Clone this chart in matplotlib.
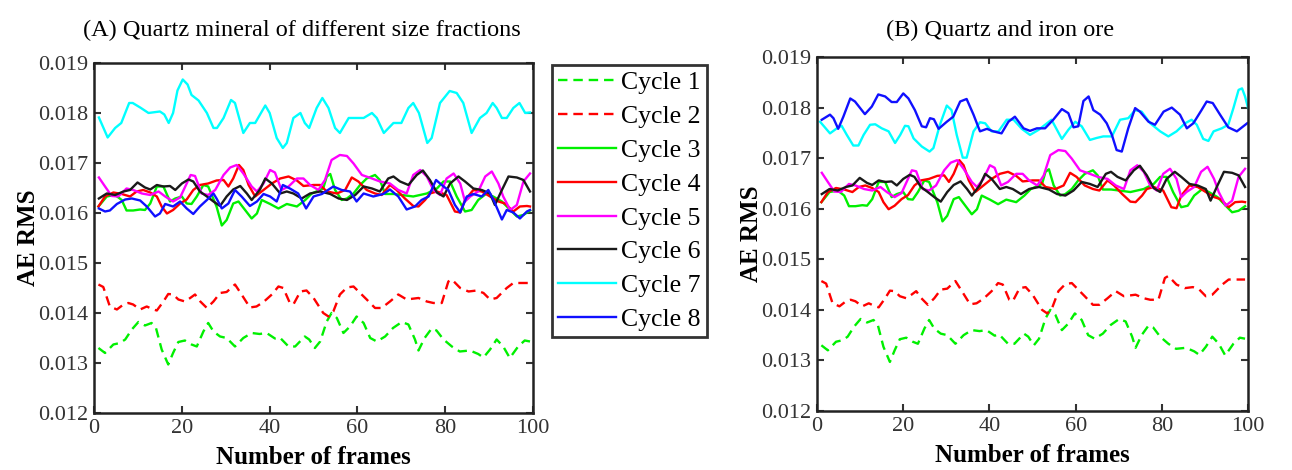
import matplotlib
matplotlib.use("Agg")
import matplotlib.pyplot as plt

plt.rcParams["font.family"] = ["Liberation Serif", "DejaVu Serif"]

# ---------------- data ----------------
# Cycle 1 (green dashed) - same in both panels
c1_x = [1, 2.5, 4.4, 5.9, 7.1, 8.6, 10.1, 11.6, 13.1, 14.1, 15.4, 16.9, 18, 19.2, 20.7, 22.2, 23.4, 24.9,
        26, 27.2, 28.7, 30.2, 32.1, 34, 35.9, 37.7, 39.3, 41.2, 42.3, 44.3, 45.8, 48, 49, 50.3, 51.5, 53,
        54.1, 55.3, 56.8, 58.3, 59.8, 61.4, 62.9, 64.4, 66.3, 68.1, 70.1, 71.6, 73.1, 73.9, 75.3, 76.9, 78,
        79.6, 81.5, 83.3, 85.6, 87.5, 88.7, 90.2, 91.7, 93.2, 94.7, 96.6, 98.1, 99.3]
c1_y = [0.0133, 0.0132, 0.01337, 0.0134, 0.01347, 0.01367, 0.01382, 0.01375, 0.0138, 0.0137, 0.01327,
        0.01297, 0.0132, 0.01342, 0.01345, 0.01337, 0.01333, 0.01363, 0.0138, 0.01363, 0.01353, 0.0135,
        0.01333, 0.0135, 0.0136, 0.01358, 0.0136, 0.01349, 0.01351, 0.01333, 0.01333, 0.01353, 0.01347,
        0.0133, 0.01343, 0.01383, 0.014, 0.0139, 0.0136, 0.01373, 0.01393, 0.0138, 0.0135, 0.01343,
        0.01353, 0.0137, 0.01382, 0.01377, 0.01347, 0.01325, 0.0135, 0.01369, 0.01365, 0.01347, 0.01333,
        0.01323, 0.01325, 0.01318, 0.01311, 0.01327, 0.01347, 0.01333, 0.0131, 0.01333, 0.01345, 0.01343]

# Cycle 2 (red dashed)
c2_x = [1, 2.1, 3.6, 5.2, 6.7, 7.8, 8.9, 10.5, 12, 13.5, 14.3, 15.8, 16.9, 18, 19.2, 20.7, 21.9, 23, 24.2,
        25.7, 27.2, 28.7, 30.2, 32.1, 33.6, 35.5, 37, 38.6, 40.5, 42, 43.1, 44.6, 45.4, 47, 48.4, 50, 52.2,
        53.4, 54.5, 56, 57.6, 59.1, 60.6, 62.1, 64, 65.5, 67.4, 69.3, 71.2, 73.9, 75.8, 77.3, 79.2, 80.7,
        81.5, 83.4, 85.3, 87.2, 88.7, 90.2, 91.7, 94, 95.5, 97.4, 99.3]
c2_y = [0.01457, 0.01452, 0.01413, 0.01407, 0.01417, 0.0142, 0.01417, 0.01407, 0.01413, 0.01407, 0.01405,
        0.01423, 0.01438, 0.01437, 0.01427, 0.01423, 0.0143, 0.01437, 0.01423, 0.0141, 0.01423, 0.0144,
        0.01442, 0.01457, 0.01437, 0.01411, 0.01413, 0.01422, 0.01437, 0.01453, 0.0145, 0.0142, 0.01417,
        0.01443, 0.01445, 0.0143, 0.014, 0.01393, 0.01403, 0.01437, 0.01451, 0.01453, 0.0144, 0.01427,
        0.0141, 0.0141, 0.01423, 0.01437, 0.01427, 0.0143, 0.01423, 0.0142, 0.0142, 0.01463, 0.01467,
        0.0145, 0.01443, 0.01445, 0.0144, 0.01427, 0.0143, 0.0145, 0.0146, 0.0146, 0.0146]

# Cycle 3 (green solid)
c3_x = [1, 2.9, 4.8, 6.3, 7.4, 8.9, 10.5, 11.6, 12.8, 14.3, 15.8, 17.3, 18.5, 20, 21.1, 22.2, 23.4, 24.9,
        26, 27.9, 29.1, 30.2, 31.7, 32.9, 34.4, 35.9, 37.1, 38.2, 40.1, 42, 43.9, 46.2, 48.1, 49.6, 52.2,
        53, 53.8, 54.9, 56.4, 57.6, 59.1, 60.6, 62.1, 64, 65.1, 66.3, 68.2, 70.1, 72.7, 75.8, 78.1, 79.6,
        81.1, 82.6, 84.5, 86, 87.5, 89.4, 90.9, 92.9, 94.8, 96.3, 97.8, 99.3]
c3_y = [0.01613, 0.01633, 0.01636, 0.01626, 0.01605, 0.01605, 0.01607, 0.01606, 0.01619, 0.01653, 0.01653,
        0.01623, 0.01629, 0.01633, 0.01619, 0.01618, 0.01633, 0.01656, 0.01653, 0.01613, 0.01575, 0.01586,
        0.01619, 0.01623, 0.01606, 0.01589, 0.01599, 0.01626, 0.01618, 0.01609, 0.01618, 0.01613, 0.01626,
        0.01639, 0.01649, 0.01673, 0.01678, 0.01646, 0.01626, 0.01629, 0.01639, 0.01656, 0.01669, 0.01676,
        0.01666, 0.01638, 0.01638, 0.01636, 0.01633, 0.01639, 0.01649, 0.01663, 0.01663, 0.01633, 0.01603,
        0.01606, 0.01626, 0.01639, 0.01633, 0.01623, 0.01606, 0.01593, 0.01596, 0.01605]

# Cycle 4 (red solid)
c4_x = [1, 2.5, 4.4, 6.3, 8.2, 9.7, 11.2, 12.8, 14.3, 15.4, 16.6, 18, 19.6, 21.1, 22.6, 24.1, 26, 27.9,
        29.5, 30.6, 31.7, 33, 34, 35.2, 36.7, 38.6, 40.5, 42.4, 44.3, 46.2, 47.7, 50, 51.5, 53, 55.3, 57.2,
        58.7, 60.2, 62.1, 64, 65.5, 67.4, 68.9, 70.8, 72.7, 73.9, 75.4, 76.5, 78.1, 80.3, 82.2, 83.4, 84.5,
        86.4, 88.3, 90.2, 92.1, 93.6, 95.5, 97, 98.6, 99.3]
c4_y = [0.01613, 0.01633, 0.01641, 0.01638, 0.01633, 0.01643, 0.01646, 0.01641, 0.01633, 0.01613, 0.01599,
        0.01606, 0.01619, 0.01627, 0.01646, 0.01656, 0.01659, 0.01665, 0.01666, 0.01653, 0.01669, 0.01696,
        0.01686, 0.01656, 0.01633, 0.01646, 0.01659, 0.01669, 0.01673, 0.01665, 0.01654, 0.01656, 0.01656,
        0.01643, 0.01639, 0.01646, 0.01671, 0.01663, 0.01646, 0.01639, 0.01636, 0.01656, 0.01646, 0.01629,
        0.01614, 0.01613, 0.01626, 0.01639, 0.01643, 0.01636, 0.01603, 0.01601, 0.01626, 0.01646, 0.01643,
        0.01633, 0.01623, 0.01619, 0.01603, 0.01613, 0.01614, 0.01613]

# Cycle 5 (magenta)
c5_x = [1.1, 2.5, 4, 5.5, 7.4, 8.9, 10.9, 12.8, 14.7, 16.2, 18, 19.6, 21.1, 22, 23, 24.5, 26, 27.6, 29.5,
        31, 32.5, 34, 35.9, 37.1, 38.6, 40.1, 41.2, 42.7, 44.3, 46.2, 47.7, 49.2, 51.1, 52.6, 54.1, 56,
        57.6, 59.1, 61, 63.3, 65.1, 67.4, 69.3, 71.2, 72.7, 74.3, 75.8, 77.3, 78.8, 80.3, 81.9, 83.4, 84.5,
        85.7, 87.5, 89.1, 90.6, 92.1, 93.2, 94.8, 96.3, 97.8, 99.3]
c5_y = [0.01671, 0.01653, 0.01634, 0.01633, 0.01649, 0.01646, 0.01639, 0.01636, 0.01643, 0.01633, 0.01623,
        0.01631, 0.01659, 0.01676, 0.01674, 0.01639, 0.01636, 0.01646, 0.01676, 0.01691, 0.01696, 0.01679,
        0.01653, 0.01643, 0.01659, 0.01686, 0.01681, 0.01646, 0.01653, 0.01669, 0.01669, 0.01656, 0.01646,
        0.01666, 0.01706, 0.01716, 0.01714, 0.01699, 0.01676, 0.01669, 0.01663, 0.01659, 0.01646, 0.01639,
        0.01676, 0.01686, 0.01673, 0.01646, 0.01636, 0.01669, 0.01679, 0.01659, 0.01623, 0.01633, 0.01643,
        0.01673, 0.01683, 0.01659, 0.01633, 0.01606, 0.01616, 0.01663, 0.01679]

# Cycle 6 (black)
c6_x = [1.1, 2.9, 4.8, 6.7, 8.2, 9.9, 11.6, 12.8, 14.3, 15.8, 17.3, 18.5, 20, 21.5, 22.6, 24.1, 25.7, 27.2,
        28.7, 30.2, 31.7, 33.3, 34.8, 35.9, 37.8, 39, 40.5, 42.4, 43.9, 45.4, 47.3, 49.2, 51.5, 53.8, 55.7,
        57.6, 59.5, 61.4, 63.3, 65.1, 67, 68.2, 69.7, 71.6, 73.5, 74.9, 76.5, 78.1, 79.6, 81.1, 83, 84.5,
        86.4, 88.3, 90.2, 91.3, 92.9, 94.4, 96.3, 97.8, 99.3]
c6_y = [0.01629, 0.01639, 0.01636, 0.01643, 0.01646, 0.01661, 0.01651, 0.01647, 0.01656, 0.01653, 0.01654,
        0.01646, 0.01659, 0.01667, 0.01663, 0.01643, 0.01633, 0.01623, 0.01614, 0.01633, 0.01647, 0.01654,
        0.01639, 0.01626, 0.01647, 0.01669, 0.01659, 0.01639, 0.01643, 0.01639, 0.01629, 0.01639, 0.01643,
        0.01638, 0.01629, 0.01626, 0.01636, 0.01653, 0.01649, 0.01643, 0.01669, 0.01673, 0.01663, 0.01656,
        0.01676, 0.01685, 0.01666, 0.01641, 0.01633, 0.01659, 0.01673, 0.01663, 0.01649, 0.01646, 0.01639,
        0.01616, 0.01646, 0.01673, 0.01671, 0.01666, 0.01643]

# Cycle 7, panel A (cyan)
c7a_x = [1.1, 3.1, 4.8, 6.2, 8, 8.8, 10.5, 12.4, 15, 16, 17, 18, 19, 20.2, 21.3, 22.2, 23.8, 25.7, 27.2,
         28, 29.5, 31.2, 32.1, 34, 35.5, 36.7, 39, 40, 41.6, 43, 43.9, 45.4, 47, 48, 49, 50.7, 52, 53.4,
         54.9, 56, 58, 59.8, 61.4, 63.3, 64.4, 66, 68.2, 70, 71.6, 72.7, 74, 75.9, 76.9, 78.8, 81, 82.6,
         84.1, 86, 87.9, 89.4, 90.8, 91.7, 92.9, 94, 95.5, 96.9, 98.2, 99.3]
c7a_y = [0.01791, 0.01751, 0.0177, 0.0178, 0.0182, 0.0182, 0.01811, 0.018, 0.01803, 0.01797, 0.0178,
         0.018, 0.01845, 0.01867, 0.01857, 0.01836, 0.01825, 0.018, 0.0177, 0.0177, 0.0179, 0.01826,
         0.0182, 0.0176, 0.0178, 0.0178, 0.01815, 0.018, 0.0175, 0.0173, 0.0174, 0.0179, 0.018, 0.0178,
         0.0177, 0.0181, 0.0183, 0.0181, 0.0177, 0.0176, 0.0179, 0.0179, 0.0179, 0.018, 0.0179, 0.0176,
         0.0178, 0.0178, 0.0181, 0.0182, 0.018, 0.0174, 0.0175, 0.0182, 0.01844, 0.0184, 0.0182, 0.0176,
         0.0179, 0.018, 0.0182, 0.0181, 0.0179, 0.0179, 0.0181, 0.0182, 0.018, 0.01801]

# Cycle 8, panel A (blue)
c8a_x = [1.1, 2.5, 3.6, 5.2, 7.1, 8.6, 10.5, 12, 13.9, 15, 16.2, 18, 19.6, 21.1, 22.6, 24.1, 25.7, 27.2,
         27.9, 29.1, 30.6, 32.1, 33.6, 35.5, 37.1, 38.6, 40.1, 41.6, 43, 44.6, 46.5, 48.3, 50, 51.9, 54.5,
         56.4, 58.3, 59.8, 61.4, 63.6, 65.9, 67.4, 69.3, 71.2, 73.1, 74.6, 76.2, 77.9, 79.6, 80.7, 82.2,
         83.4, 84.9, 86.4, 88.3, 89.8, 91, 92.9, 94, 95.5, 97, 98.6, 99.3]
c8a_y = [0.01609, 0.01603, 0.01605, 0.01618, 0.01627, 0.01629, 0.01625, 0.01613, 0.01593, 0.01599, 0.01618,
         0.01613, 0.01623, 0.01609, 0.01598, 0.01613, 0.01626, 0.01639, 0.01629, 0.01609, 0.01619, 0.01646,
         0.01633, 0.01614, 0.01623, 0.01638, 0.01633, 0.01623, 0.01656, 0.01649, 0.01639, 0.01609, 0.01633,
         0.01638, 0.01653, 0.01646, 0.01643, 0.01623, 0.01639, 0.01633, 0.01638, 0.01647, 0.01633, 0.01607,
         0.01613, 0.01626, 0.01633, 0.01666, 0.01653, 0.01646, 0.01616, 0.01601, 0.01633, 0.01638, 0.01633,
         0.01646, 0.01626, 0.01587, 0.01606, 0.01601, 0.01589, 0.01603, 0.01606]

# Cycle 7, panel B (cyan)
c7b_x = [0.7, 3, 4.6, 5.7, 6.9, 8.4, 9.6, 10.8, 12.3, 13.5, 15, 16.6, 18.1, 19.3, 20.4, 21.2, 22.4, 24.3,
         26.1, 27, 28.5, 30.1, 31.2, 32.4, 33.8, 34.7, 36.3, 37.8, 39, 40.5, 42.1, 44, 45.6, 47.5, 49.4,
         51.4, 52.9, 54.4, 56.8, 58.3, 59.9, 61.4, 63.3, 64.9, 66.4, 68.4, 70.3, 72.2, 73.8, 75.3, 77.3,
         79.6, 81.5, 83.4, 85.4, 86.9, 88.1, 89.6, 90.8, 92, 93.9, 95.4, 96.6, 97.8, 98.6, 99.3, 100]
c7b_y = [0.01772, 0.01749, 0.01759, 0.01764, 0.01746, 0.01725, 0.01725, 0.01746, 0.01766, 0.01767, 0.01759,
         0.01753, 0.0173, 0.01746, 0.01764, 0.01763, 0.01739, 0.01723, 0.01713, 0.0172, 0.01766, 0.01804,
         0.01795, 0.01746, 0.01701, 0.01701, 0.01753, 0.01771, 0.01769, 0.01753, 0.01753, 0.01776, 0.01776,
         0.01758, 0.01746, 0.01756, 0.01766, 0.01776, 0.01738, 0.01756, 0.01772, 0.01763, 0.01736, 0.0174,
         0.01743, 0.01743, 0.01776, 0.01779, 0.01795, 0.01792, 0.01769, 0.01753, 0.01743, 0.01753, 0.01769,
         0.01776, 0.01766, 0.01738, 0.01734, 0.01753, 0.01759, 0.01766, 0.01799, 0.01835, 0.01838, 0.01822,
         0.01799]

# Cycle 8, panel B (blue)
c8b_x = [1.1, 3, 3.8, 4.9, 6.1, 7.7, 8.8, 11.1, 12.7, 14.2, 15.8, 17.3, 18.5, 20, 21.2, 22.7, 24.3, 25.3,
         26.2, 27.1, 28.2, 30.1, 31.6, 33.2, 34.7, 36.3, 37.8, 39.4, 40.9, 42.8, 44.4, 45.9, 47.9, 49.4, 51,
         52.9, 54.8, 56.8, 58.3, 59.5, 60.6, 61.8, 63, 64.1, 65.7, 67.2, 68.4, 69.5, 70.7, 72.2, 73.8, 74.9,
         76.9, 78.4, 80.4, 82.3, 84.2, 85.8, 87.3, 89.2, 90.4, 91.8, 93.5, 95.4, 97.4, 98.9, 99.8]
c8b_y = [0.01776, 0.01786, 0.01779, 0.01758, 0.01782, 0.01818, 0.01812, 0.01787, 0.01802, 0.01826, 0.01822,
         0.01811, 0.01811, 0.01828, 0.01818, 0.01795, 0.01763, 0.01761, 0.01779, 0.01777, 0.01758, 0.01772,
         0.01782, 0.01812, 0.01817, 0.01786, 0.01753, 0.01758, 0.01753, 0.01749, 0.01772, 0.01782, 0.01759,
         0.01754, 0.01759, 0.01759, 0.01776, 0.01797, 0.01789, 0.01761, 0.01763, 0.01813, 0.01822, 0.01795,
         0.01786, 0.01769, 0.01746, 0.01716, 0.01713, 0.01759, 0.01799, 0.01792, 0.01772, 0.01766, 0.01792,
         0.018, 0.01786, 0.01759, 0.01769, 0.01795, 0.01812, 0.01809, 0.01786, 0.01761, 0.01753, 0.01763,
         0.01769]

labels = ["Cycle 1", "Cycle 2", "Cycle 3", "Cycle 4", "Cycle 5", "Cycle 6", "Cycle 7", "Cycle 8"]
colors = ["#00f000", "#ff0000", "#00f000", "#ff0000", "#ff00ff", "#1a1a1a", "#00ffff", "#1010ff"]
styles = ["--", "--", "-", "-", "-", "-", "-", "-"]

panel_a = [(c1_x, c1_y), (c2_x, c2_y), (c3_x, c3_y), (c4_x, c4_y), (c5_x, c5_y), (c6_x, c6_y),
           (c7a_x, c7a_y), (c8a_x, c8a_y)]
panel_b = [(c1_x, c1_y), (c2_x, c2_y), (c3_x, c3_y), (c4_x, c4_y), (c5_x, c5_y), (c6_x, c6_y),
           (c7b_x, c7b_y), (c8b_x, c8b_y)]

# ---------------- figure ----------------
fig = plt.figure(figsize=(12.92, 4.70), dpi=100)
ax_a = fig.add_axes([0.0728, 0.1213, 0.3398, 0.7447])
ax_b = fig.add_axes([0.6324, 0.1255, 0.3336, 0.7532])

handles = []
for ax, series in [(ax_a, panel_a), (ax_b, panel_b)]:
    for (xs, ys), lab, col, ls in zip(series, labels, colors, styles):
        ln, = ax.plot(xs, ys, color=col, ls=ls, lw=1.7, label=lab,
                      dashes=(4, 2.5) if ls == "--" else (None, None))
        if ax is ax_a:
            handles.append(ln)
    ax.set_xlim(0, 100)
    ax.set_ylim(0.012, 0.019)
    ax.set_xticks([0, 20, 40, 60, 80, 100])
    ax.set_yticks([0.012, 0.013, 0.014, 0.015, 0.016, 0.017, 0.018, 0.019])
    ax.yaxis.set_major_formatter(matplotlib.ticker.FormatStrFormatter("%.3f"))
    ax.tick_params(direction="in", top=True, right=True, length=5, width=1.5, labelsize=16,
                   colors="#333333", pad=4)
    for sp in ax.spines.values():
        sp.set_linewidth(1.8)
        sp.set_color("#222222")
    ax.set_xlabel("Number of frames", fontsize=18, fontweight="bold", labelpad=6)
    ax.set_ylabel("AE RMS", fontsize=18, fontweight="bold", labelpad=-1)

fig.text(302 / 1292, 1 - 30 / 470, "(A) Quartz mineral of different size fractions",
         fontsize=17.5, ha="center", va="center")
fig.text(1000 / 1292, 1 - 30 / 470, "(B) Quartz and iron ore",
         fontsize=17.5, ha="center", va="center")

leg = fig.legend(handles=handles, loc="upper left", bbox_to_anchor=(0.4272, 0.8617),
                 fontsize=18.5, frameon=True, fancybox=False, handlelength=2.25,
                 handletextpad=0.2, labelspacing=0.42, borderpad=0.25, borderaxespad=0)
leg.get_frame().set_edgecolor("black")
leg.get_frame().set_linewidth(2)

fig.savefig("out.png", dpi=100)
